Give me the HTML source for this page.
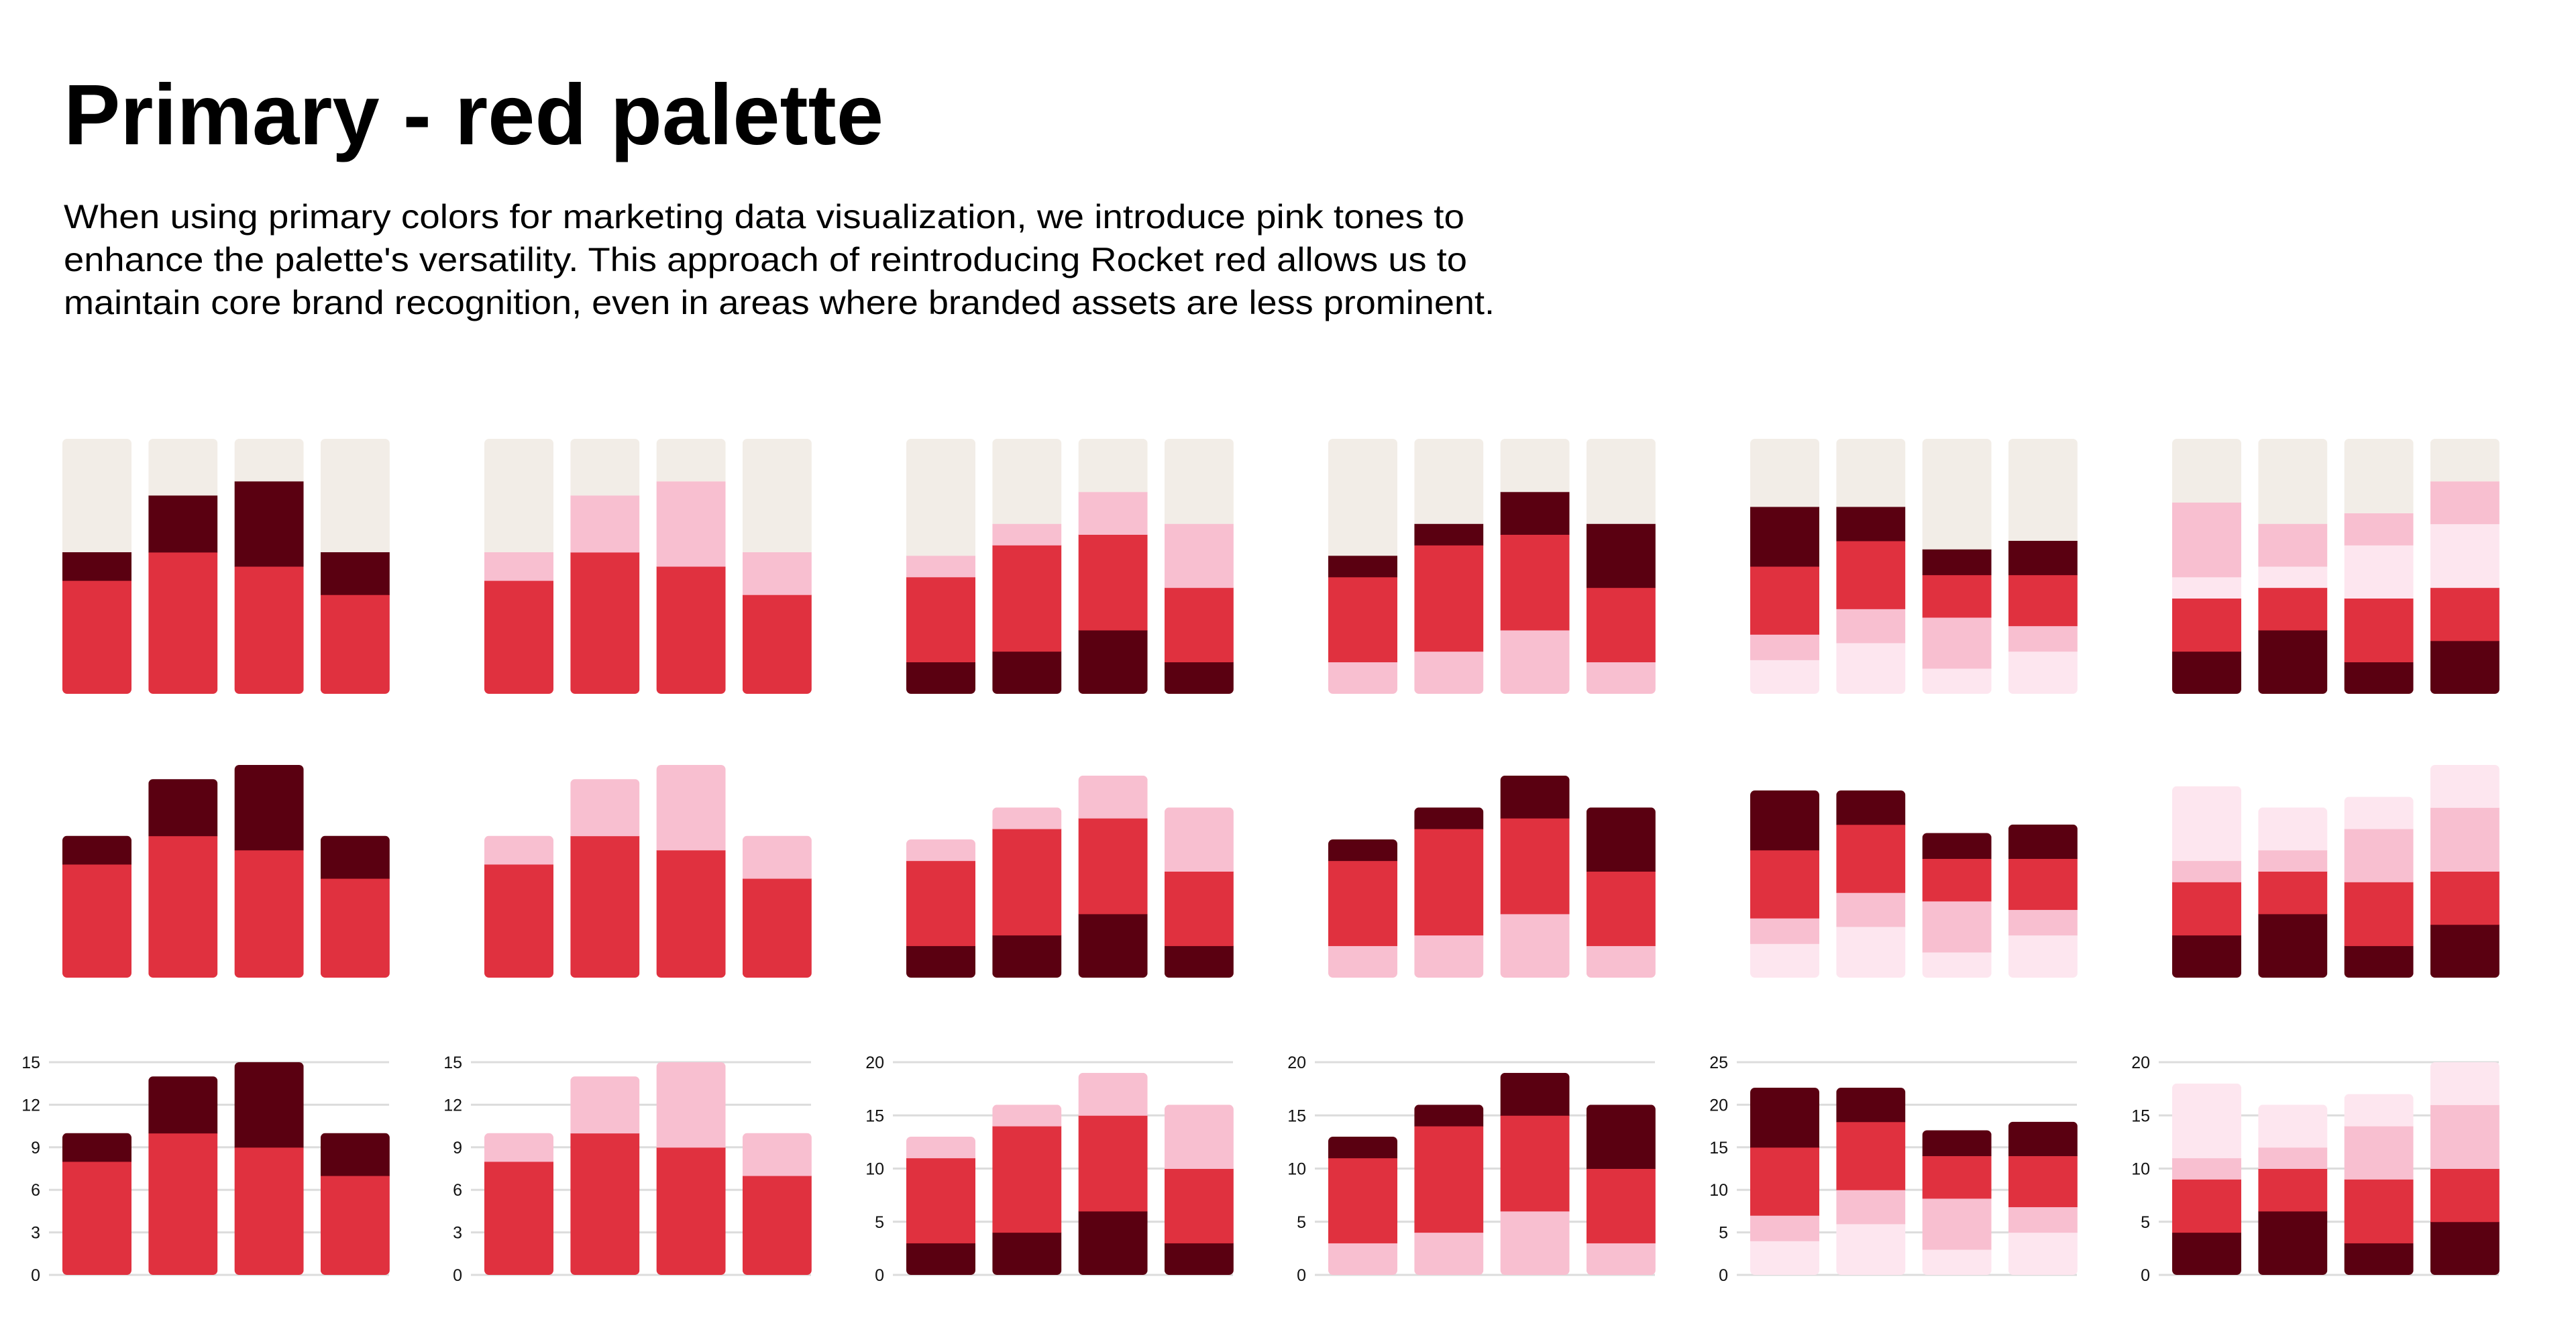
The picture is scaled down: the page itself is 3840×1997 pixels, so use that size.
<!DOCTYPE html>
<html><head><meta charset="utf-8"><title>Primary - red palette</title>
<style>
html,body{margin:0;padding:0;background:#fff;}
body{width:3840px;height:1997px;overflow:hidden;}
svg{display:block;}
</style></head>
<body>
<svg id="root" width="3840" height="1997" viewBox="0 0 3840 1997" xmlns="http://www.w3.org/2000/svg">
<text x="95" y="215" font-family="Liberation Sans, sans-serif" font-weight="bold" font-size="128" fill="#000" textLength="1222" lengthAdjust="spacingAndGlyphs">Primary - red palette</text>
<g font-family="Liberation Sans, sans-serif" font-size="50" fill="#000">
<text x="95" y="340" textLength="2088" lengthAdjust="spacingAndGlyphs">When using primary colors for marketing data visualization, we introduce pink tones to</text>
<text x="95" y="404" textLength="2092" lengthAdjust="spacingAndGlyphs">enhance the palette's versatility. This approach of reintroducing Rocket red allows us to</text>
<text x="95" y="468" textLength="2133" lengthAdjust="spacingAndGlyphs">maintain core brand recognition, even in areas where branded assets are less prominent.</text>
</g>
<defs id="defs"></defs>
<g id="charts"></g>
</svg>
<script>
// colors
const RED = "#E0313F", DARK = "#5A0011", PINK = "#F8BFD0", LIGHT = "#FDE6EF", BEIGE = "#F2EDE7";
// categories
const categories = ["A", "B", "C", "D"];
// axis maxima and ticks per chart
const axisMax = [15, 15, 20, 20, 25, 20];
const ticks1 = [0, 3, 6, 9, 12, 15];
const ticks2 = [0, 5, 10, 15, 20];
const ticks3 = [0, 5, 10, 15, 20, 25];
const tickSets = [ticks1, ticks1, ticks2, ticks2, ticks3, ticks2];
// series values, stacked from bottom (per chart)
const c1Red = [8, 10, 9, 7];
const c1Dark = [2, 4, 6, 3];
const c2Red = [8, 10, 9, 7];
const c2Pink = [2, 4, 6, 3];
const c3Dark = [3, 4, 6, 3];
const c3Red = [8, 10, 9, 7];
const c3Pink = [2, 2, 4, 6];
const c4Pink = [3, 4, 6, 3];
const c4Red = [8, 10, 9, 7];
const c4Dark = [2, 2, 4, 6];
const c5Light = [4, 6, 3, 5];
const c5Pink = [3, 4, 6, 3];
const c5Red = [8, 8, 5, 6];
const c5Dark = [7, 4, 3, 4];
const c6Dark = [4, 6, 3, 5];
const c6Red = [5, 4, 6, 5];
const c6Pink = [2, 2, 5, 6];
const c6Light = [7, 4, 3, 4];

const charts = [
  {series:[c1Red, c1Dark], colors:[RED, DARK], row1:[RED, DARK]},
  {series:[c2Red, c2Pink], colors:[RED, PINK], row1:[RED, PINK]},
  {series:[c3Dark, c3Red, c3Pink], colors:[DARK, RED, PINK], row1:[DARK, RED, PINK]},
  {series:[c4Pink, c4Red, c4Dark], colors:[PINK, RED, DARK], row1:[PINK, RED, DARK]},
  {series:[c5Light, c5Pink, c5Red, c5Dark], colors:[LIGHT, PINK, RED, DARK], row1:[LIGHT, PINK, RED, DARK]},
  {series:[c6Dark, c6Red, c6Pink, c6Light], colors:[DARK, RED, PINK, LIGHT], row1:[DARK, RED, LIGHT, PINK]}
];

const NS = "http://www.w3.org/2000/svg";
const root = document.getElementById("charts");
const defs = document.getElementById("defs");
const CHART_X0 = 93, CHART_PITCH = 629, BAR_PITCH = 128.3, BAR_W = 103, RAD = 7;
const rows = [
  {bottom:1034, height:380, factor:1.2, fill:true},
  {bottom:1457, height:317, factor:1, fill:false},
  {bottom:1900, height:317, factor:1, fill:false, axis:true}
];
let clipId = 0;
function mk(tag, attrs){ const e = document.createElementNS(NS, tag); for (const k in attrs) e.setAttribute(k, attrs[k]); return e; }

charts.forEach((ch, ci) => {
  const x0 = CHART_X0 + ci * CHART_PITCH;
  const max = axisMax[ci];
  rows.forEach((row, ri) => {
    const dom = max * row.factor;
    const y = v => row.bottom - v / dom * row.height;
    const xb = j => x0 + j * BAR_PITCH;
    const g = mk("g", {});
    
    
    root.appendChild(g);
    if (row.axis) {
      tickSets[ci].forEach(t => {
        const ln = mk("line", {x1: x0 - 20, x2: x0 + 487, y1: y(t), y2: y(t), stroke: "#dcdcdc", "stroke-width": 3});
        
        
        g.appendChild(ln);
        const tx = mk("text", {x: x0 - 33, y: y(t) + 9, "text-anchor": "end", "font-family": "Liberation Sans, sans-serif", "font-size": 25, fill: "#111"});
        tx.textContent = t;
        
        
        g.appendChild(tx);
      });
    }
    const colors = ri === 0 ? ch.row1 : ch.colors;
    categories.forEach((c, j) => {
      let total = 0;
      ch.series.forEach(s => total += s[j]);
      const top = row.fill ? dom : total;
      const id = "clip" + (clipId++);
      const cp = mk("clipPath", {id: id});
      cp.appendChild(mk("rect", {x: xb(j), y: y(top), width: BAR_W, height: row.bottom - y(top), rx: RAD, ry: RAD}));
      defs.appendChild(cp);
      const bg = mk("g", {"clip-path": "url(#" + id + ")"});
      
      
      g.appendChild(bg);
      let acc = 0;
      ch.series.forEach((s, si) => {
        const r = mk("rect", {x: xb(j), y: y(acc + s[j]), width: BAR_W, height: y(acc) - y(acc + s[j]) + 0.5, fill: colors[si]});
        
        
        bg.appendChild(r);
        acc += s[j];
      });
      if (row.fill && acc < dom) {
        const r = mk("rect", {x: xb(j), y: y(dom), width: BAR_W, height: y(acc) - y(dom), fill: BEIGE});
        
        
        bg.appendChild(r);
      }
    });
  });
});
</script>
</body></html>
